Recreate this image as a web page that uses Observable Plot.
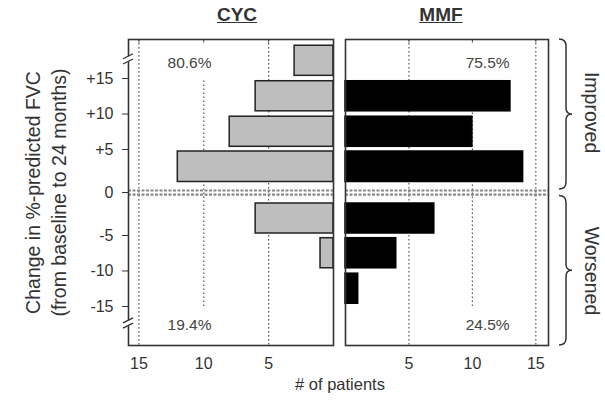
<!DOCTYPE html>
<html><head><meta charset="utf-8">
<script src="https://cdn.jsdelivr.net/npm/d3@7"></script>
<script src="https://cdn.jsdelivr.net/npm/@observablehq/plot@0.6"></script>
<style>
body{margin:0;background:#fff;}
#chart{position:relative;width:605px;height:401px;overflow:hidden;font-family:"Liberation Sans",Arial,Helvetica,sans-serif;color:#333;}
#chart svg{position:absolute;top:0;overflow:visible;}
.title{position:absolute;top:5px;width:120px;text-align:center;font-weight:bold;font-size:19px;line-height:20px;text-decoration:underline;color:#333;}
.xlabel{position:absolute;top:375px;left:240px;width:200px;text-align:center;font-size:16.5px;line-height:18px;color:#333;}
</style></head><body>
<div id="chart"></div>
<script>
// ---- data ----
const binLabels = [">15", "+10 to +15", "+5 to +10", "0 to +5", "-5 to 0", "-10 to -5", "-15 to -10", "<-15"];
const binLo = [15, 10, 5, 0, -5, -10, -15, -20];
const binHi = [20, 15, 10, 5, 0, -5, -10, -15];
const cycCounts = [3, 6, 8, 12, 6, 1, 0, 0];
const mmfCounts = [0, 13, 10, 14, 7, 4, 1, 0];
const cycPct = ["80.6%", "19.4%"];
const mmfPct = ["75.5%", "24.5%"];
const groups = ["Improved", "Worsened"];
const panelTitles = ["CYC", "MMF"];
const yTicks = [15, 10, 5, 0, -5, -10, -15];
const yTickLabels = ["+15", "+10", "+5", "0", "-5", "-10", "-15"];
const xTicks = [5, 10, 15];
const yTitleLines = ["Change in %-predicted FVC", "(from baseline to 24 months)"];
const xTitle = "# of patients";

const rows = binLabels.map((b, i) => ({bin: b, lo: binLo[i], hi: binHi[i], cyc: cycCounts[i], mmf: mmfCounts[i]}));

const FONT = '"Liberation Sans", Arial, Helvetica, sans-serif';
const H = 370;
const yScale = {type: "linear", domain: [-20.5, -5, 5, 20.5], range: [345, 235, 149, 39]};
const grid = {stroke: "#555", strokeWidth: 1.2, strokeDasharray: "1.5,2.5"};
const zeroA = {stroke: "#888", strokeWidth: 2.2, strokeDasharray: "3,1.5", dy: -2};
const zeroB = {stroke: "#888", strokeWidth: 2.2, strokeDasharray: "3,1.5", dy: 2.2};

function barMarks(key, style) {
  const nz = d => d[key] > 0;
  return [
    Plot.rect(rows.filter(d => nz(d) && d.lo !== 0 && d.hi !== 0), {x1: 0, x2: key, y1: "lo", y2: "hi", insetTop: 2.7, insetBottom: 2.7, ...style}),
    Plot.rect(rows.filter(d => nz(d) && d.lo === 0), {x1: 0, x2: key, y1: "lo", y2: "hi", insetTop: 2, insetBottom: 10.5, ...style}),
    Plot.rect(rows.filter(d => nz(d) && d.hi === 0), {x1: 0, x2: key, y1: "lo", y2: "hi", insetTop: 11, insetBottom: 2, ...style})
  ];
}

function breaksMark(vals) {
  return (index, scales, values, dims) => {
    const g = d3.create("svg:g");
    const x = dims.marginLeft;
    for (const v of vals) {
      const y = scales.y(v);
      g.append("rect").attr("x", x - 2.5).attr("y", y - 2.5).attr("width", 5).attr("height", 5).attr("fill", "white");
      for (const o of [-2.6, 2.6]) {
        g.append("line").attr("x1", x - 5).attr("y1", y + o + 2.5).attr("x2", x + 5).attr("y2", y + o - 2.5)
          .attr("stroke", "#333").attr("stroke-width", 1.3);
      }
    }
    return g.node();
  };
}

function braceMark() {
  return (index, scales, values, dims) => {
    const g = d3.create("svg:g");
    const xr = dims.width - dims.marginRight;
    const xb = xr + 18, xt = xr + 11, xp = xr + 24;
    const spans = [[scales.y(20.5), scales.y(0) - 3], [scales.y(0) + 3.5, scales.y(-20.5)]];
    for (const [t, b] of spans) {
      const m = (t + b) / 2;
      g.append("path")
        .attr("d", `M${xt},${t} Q${xb},${t} ${xb},${t + 7} L${xb},${m - 6} Q${xb},${m} ${xp},${m} Q${xb},${m} ${xb},${m + 6} L${xb},${b - 7} Q${xb},${b} ${xt},${b}`)
        .attr("fill", "none").attr("stroke", "#333").attr("stroke-width", 1.5);
    }
    return g.node();
  };
}

const baseStyle = {fontFamily: FONT, fontSize: "16px", color: "#333", background: "transparent", overflow: "visible"};

const cyc = Plot.plot({
  width: 338, height: H, marginLeft: 128, marginRight: 5, marginTop: 39, marginBottom: 25,
  style: baseStyle,
  x: {domain: [0, 15.8], reverse: true, ticks: xTicks, tickSize: 0, tickPadding: 12, label: null, tickFormat: d => String(d)},
  y: {...yScale, ticks: yTicks, tickFormat: d => yTickLabels[yTicks.indexOf(d)], tickSize: 6, tickPadding: 9, label: null},
  marks: [
    Plot.ruleX([5, 15], grid),
    Plot.ruleX([10], {y1: -15, y2: 15, ...grid}),
    Plot.ruleX([5, 10, 15], {y1: 20.5, y2: 20, stroke: "#444"}),
    Plot.ruleY([0], zeroA),
    Plot.ruleY([0], zeroB),
    ...barMarks("cyc", {fill: "#bebebe", stroke: "#222", strokeWidth: 1.5}),
    Plot.text(cycPct, {text: d => d, x: 11.1, y: (d, i) => i === 0 ? 17.2 : -17.6, fontSize: 15.5, fill: "#444"}),
    Plot.text([yTitleLines.join("\n")], {text: d => d, frameAnchor: "left", y: 0, dx: -84, rotate: -90, textAnchor: "middle", fontSize: 19.5, lineHeight: 1.33, fill: "#333"}),
    Plot.frame({stroke: "#333", strokeWidth: 1.6}),
    breaksMark([17.7, -17.4])
  ]
});
cyc.style.left = "0px";

const mmf = Plot.plot({
  width: 267, height: H, marginLeft: 7, marginRight: 57, marginTop: 39, marginBottom: 25,
  style: baseStyle,
  x: {domain: [0, 16], ticks: xTicks, tickSize: 0, tickPadding: 12, label: null, tickFormat: d => String(d)},
  y: {...yScale, axis: null},
  marks: [
    Plot.ruleX([5, 15], grid),
    Plot.ruleX([10], {y1: -15, y2: 15, ...grid}),
    Plot.ruleX([5, 10, 15], {y1: 20.5, y2: 20, stroke: "#444"}),
    Plot.ruleY([0], zeroA),
    Plot.ruleY([0], zeroB),
    ...barMarks("mmf", {fill: "#000", stroke: "#000", strokeWidth: 1.5}),
    Plot.text(mmfPct, {text: d => d, x: 11.2, y: (d, i) => i === 0 ? 17.2 : -17.6, fontSize: 15.5, fill: "#444"}),
    Plot.frame({stroke: "#333", strokeWidth: 1.6}),
    braceMark(),
    Plot.text(groups, {text: d => d, frameAnchor: "right", dx: 43, y: (d, i) => i === 0 ? 10.2 : -10, rotate: 90, textAnchor: "middle", fontSize: 19.5, fill: "#333"})
  ]
});
mmf.style.left = "338px";

const chart = document.getElementById("chart");
chart.appendChild(cyc);
chart.appendChild(mmf);

const titleCenters = [237, 441];
panelTitles.forEach((t, i) => {
  const d = document.createElement("div");
  d.className = "title";
  d.textContent = t;
  d.style.left = (titleCenters[i] - 60) + "px";
  chart.appendChild(d);
});
const xl = document.createElement("div");
xl.className = "xlabel";
xl.textContent = xTitle;
chart.appendChild(xl);
</script>
</body></html>
